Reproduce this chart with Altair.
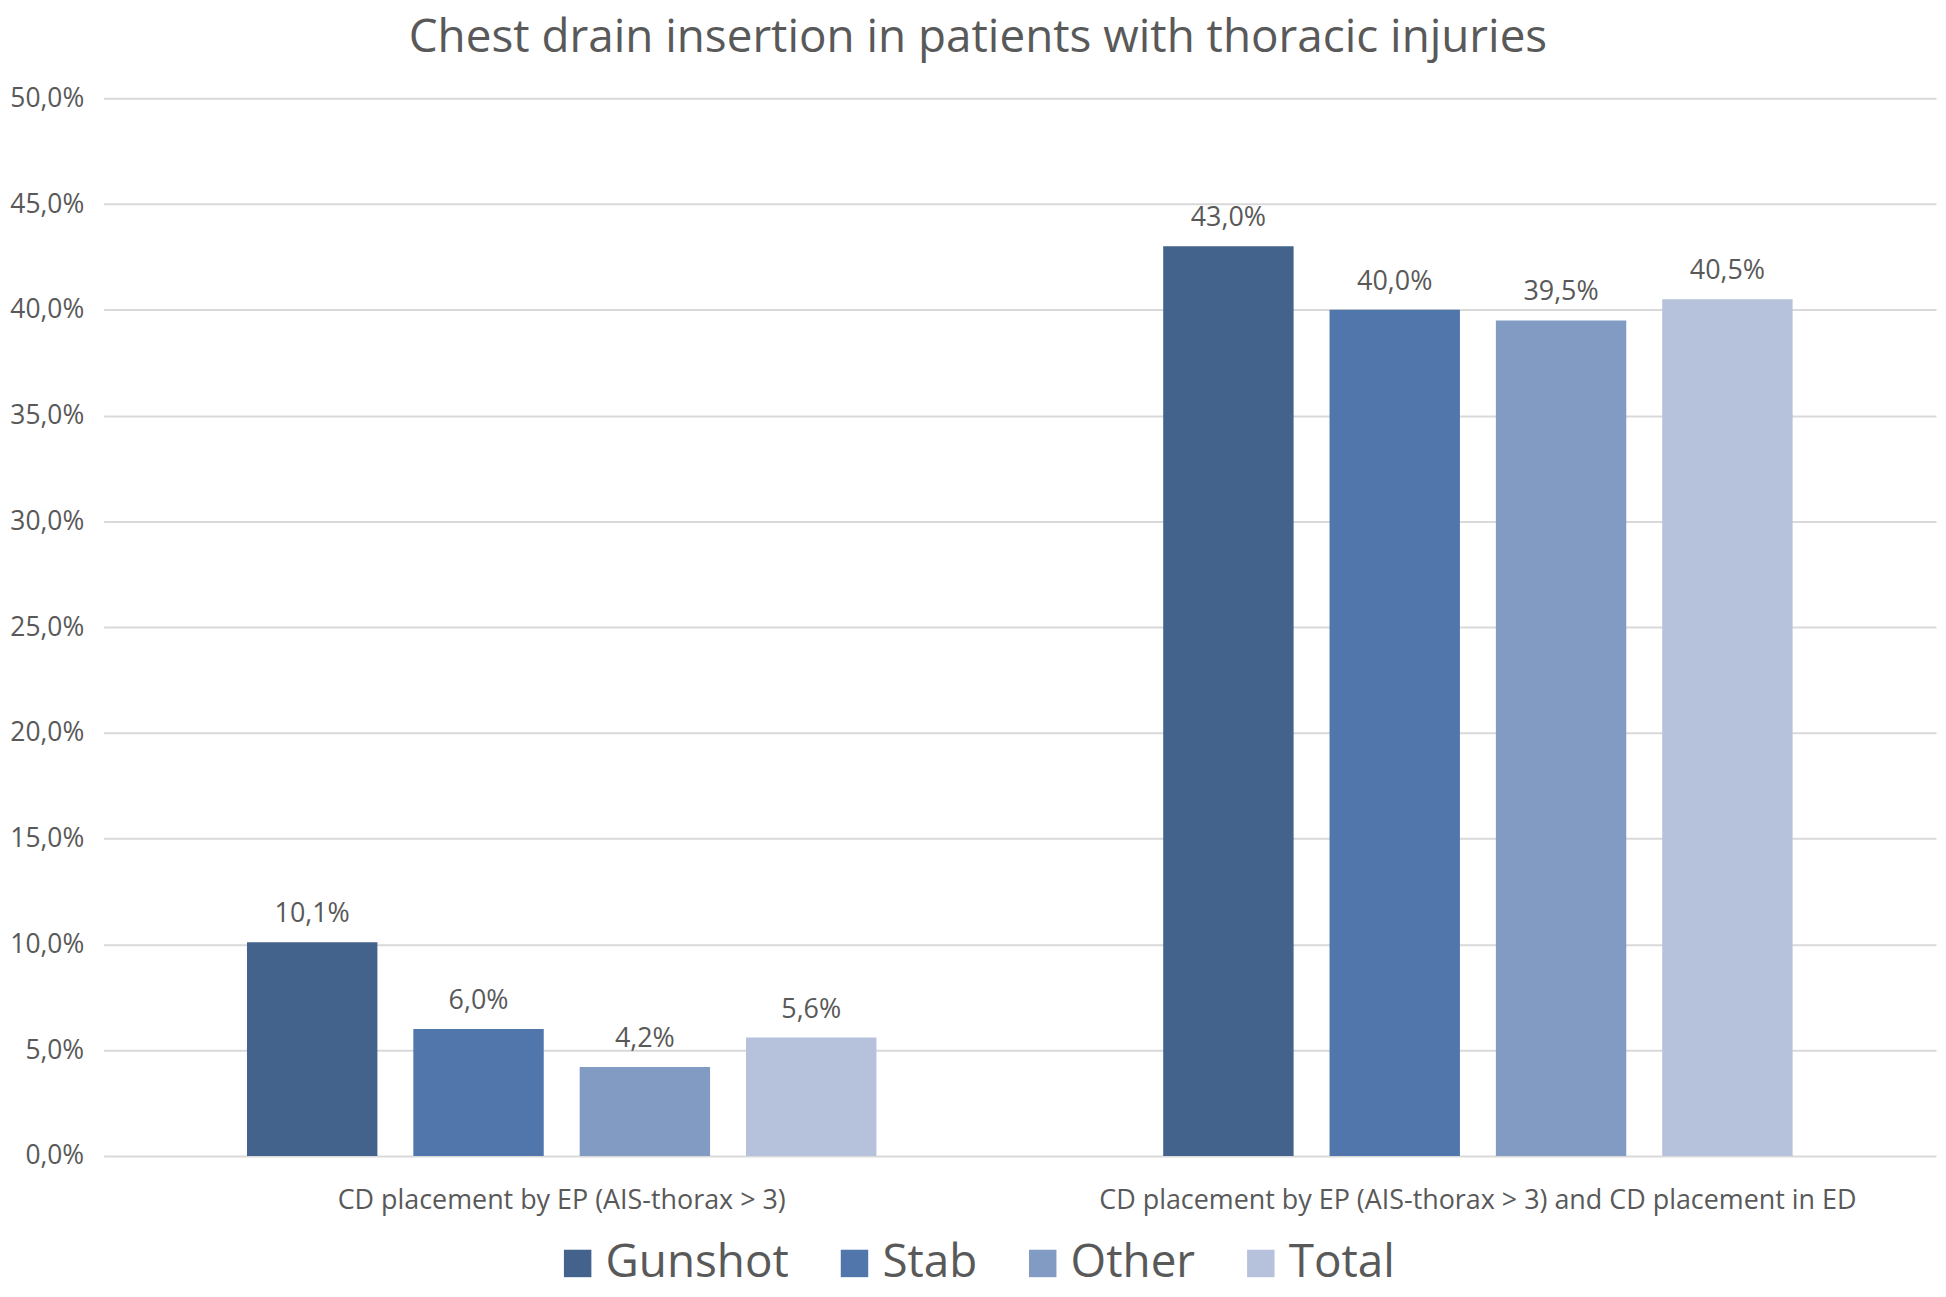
import altair as alt
import pandas as pd

groups = ["CD placement by EP (AIS-thorax > 3)",
          "CD placement by EP (AIS-thorax > 3) and CD placement in ED"]
types = ["Gunshot", "Stab", "Other", "Total"]
group1_values = [10.1, 6.0, 4.2, 5.6]
group2_values = [43.0, 40.0, 39.5, 40.5]
colors = ["#43628c", "#5176ab", "#829bc3", "#b6c2db"]

rows = []
for g, vals in zip(groups, [group1_values, group2_values]):
    for t, v in zip(types, vals):
        rows.append({"group": g, "type": t, "value": v})
df = pd.DataFrame(rows)

FONT = "Open Sans"
TEXT = "#595959"

base = alt.Chart(df).transform_calculate(
    label="replace(format(datum.value, '.1f'), '.', ',') + '%'"
).encode(
    x=alt.X("group:N", sort=groups,
            scale=alt.Scale(paddingInner=0.313, paddingOuter=0.1565),
            axis=alt.Axis(title=None, labelAngle=0, domain=False, ticks=False,
                          labelPadding=32, labelFontSize=27, labelColor=TEXT,
                          labelFont=FONT, labelLimit=1500, grid=False)),
    xOffset=alt.XOffset("type:N", sort=types,
                        scale=alt.Scale(paddingInner=0.216, paddingOuter=0)),
    y=alt.Y("value:Q", scale=alt.Scale(domain=[0, 50], nice=False),
            axis=alt.Axis(title=None, tickCount=10, domain=False, ticks=False,
                          labelExpr="replace(format(datum.value, '.1f'), '.', ',') + '%'",
                          labelFontSize=26.5, labelColor=TEXT, labelFont=FONT,
                          labelPadding=20, gridColor="#d9d9d9", gridWidth=2)),
)

bars = base.mark_bar().encode(
    color=alt.Color("type:N", sort=types,
                    scale=alt.Scale(domain=types, range=colors),
                    legend=alt.Legend(title=None, orient="none", direction="horizontal",
                                      legendX=453, legendY=1147,
                                      symbolType="square", symbolSize=760,
                                      symbolStrokeWidth=0, symbolOpacity=1,
                                      labelFontSize=46, labelFont=FONT, labelColor=TEXT,
                                      labelLimit=500, columnPadding=42, labelOffset=5))
)

labels = base.mark_text(baseline="bottom", dy=-14, fontSize=27, font=FONT, color=TEXT).encode(
    text="label:N"
)

chart = alt.layer(bars, labels).properties(
    width=1840,
    height=1062,
    autosize=alt.AutoSizeParams(type="none"),
    padding={"left": 96, "top": 88, "right": 2, "bottom": 131},
    title=alt.TitleParams("Chest drain insertion in patients with thoracic injuries",
                          fontSize=46, font=FONT, color=TEXT, fontWeight="normal",
                          anchor="middle", dx=-42, offset=23),
).configure_view(stroke=None)

chart.save("out.html", embed_options={"renderer": "svg", "actions": False})
